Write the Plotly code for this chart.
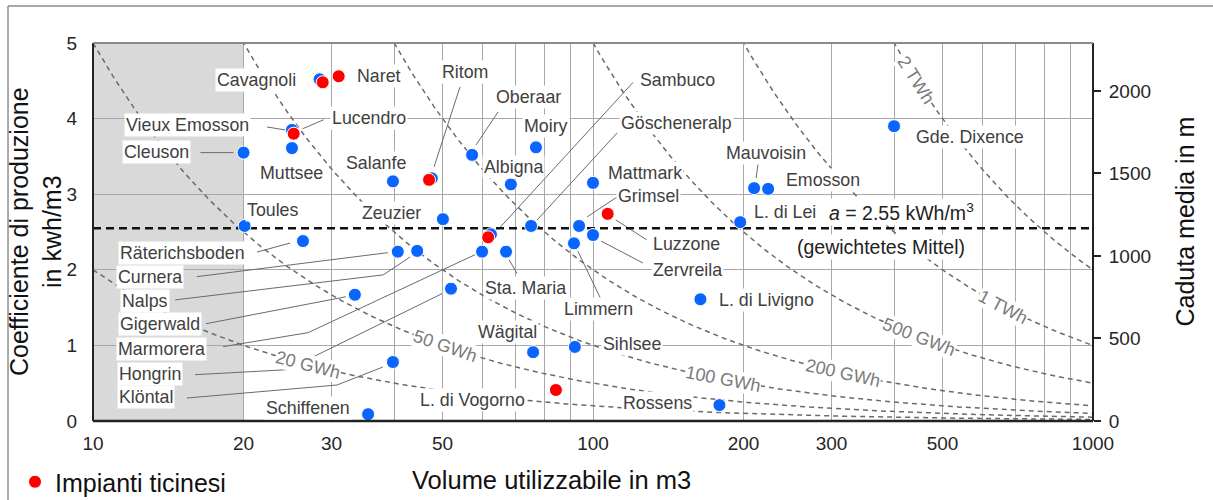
import math
import numpy as np
import plotly.graph_objects as go

# ---------------- data ----------------
names = ["Cavagnoli", "", "Naret", "Vieux Emosson", "Lucendro", "Cleuson", "Muttsee",
         "Salanfe", "Toules", "Ritom", "", "Oberaar", "Moiry", "Albigna", "Sambuco", "",
         "Göscheneralp", "Mattmark", "Grimsel", "Luzzone", "Zervreila", "Limmern", "Zeuzier",
         "Mauvoisin", "Emosson", "L. di Lei", "Gde. Dixence", "Räterichsboden", "Curnera",
         "Nalps", "Gigerwald", "Marmorera", "Sta. Maria", "Hongrin", "Klöntal", "Schiffenen",
         "L. di Livigno", "Wägital", "Sihlsee", "L. di Vogorno", "Rossens"]
volume = [28.8, 28.4, 31.0, 25.0, 25.2, 20.0, 25.0,
          39.8, 20.1, 47.0, 47.6, 57.3, 76.9, 68.5, 61.7, 62.5,
          75.2, 100.0, 93.8, 107.0, 100.0, 91.6, 50.1,
          210.0, 224.0, 197.0, 400.0, 26.3, 40.7,
          44.5, 33.4, 60.0, 67.0, 52.0, 39.8, 35.5,
          164.0, 75.9, 92.0, 84.3, 179.0]
coeff = [4.48, 4.52, 4.56, 3.85, 3.80, 3.55, 3.61,
         3.17, 2.58, 3.19, 3.21, 3.52, 3.62, 3.13, 2.43, 2.47,
         2.58, 3.15, 2.58, 2.74, 2.46, 2.35, 2.67,
         3.08, 3.07, 2.63, 3.90, 2.38, 2.24,
         2.25, 1.67, 2.24, 2.24, 1.75, 0.78, 0.09,
         1.61, 0.91, 0.98, 0.41, 0.21]
ticino = [True, False, True, False, True, False, False,
          False, False, True, False, False, False, False, True, False,
          False, False, False, True, False, False, False,
          False, False, False, False, False, False,
          False, False, False, False, False, False, False,
          False, False, False, True, False]

energy_levels_gwh = [20, 50, 100, 200, 500, 1000, 2000]
energy_labels = ["20 GWh", "50 GWh", "100 GWh", "200 GWh", "500 GWh", "1 TWh", "2 TWh"]
mean_coeff = 2.55
head_per_coeff = 458.0   # m of head per kWh/m3 (right axis)

x_tick_vals = [10, 20, 30, 50, 100, 200, 300, 500, 1000]
x_minor_grid = [40, 60, 70, 80, 90, 400, 600, 700, 800, 900]
y_tick_vals = [0, 1, 2, 3, 4, 5]
y2_tick_vals = [0, 500, 1000, 1500, 2000]
legend_label = "Impianti ticinesi"
mean_text = "<i>a</i> = 2.55 kWh/m<sup>3</sup>"
mean_note = "(gewichtetes Mittel)"

# ---------------- layout / style (pixels) ----------------
W, H = 1213, 500
ML, MR, MT, MB = 93, 120, 43, 79
PW, PH = W - ML - MR, H - MT - MB
X_RANGE = [1, 3]
Y_RANGE = [0, 5]


def px_x(p):
    return (p - ML) / PW


def px_y(p):
    return (H - MB - p) / PH


# label placement: anchor, dx, dy (px, up positive), leader-line points (px rel. to marker)
LABEL_STYLE = {
    "Cavagnoli": ("right", -25, 2, None),
    "Naret": ("left", 16, 0, None),
    "Vieux Emosson": ("right", -41, 5, [(-25, 3), (-7, 0)]),
    "Lucendro": ("left", 36, 16, [(30, 14), (9, 5)]),
    "Cleuson": ("right", -53, 1, [(-43, 0), (-10, 0)]),
    "Muttsee": ("center", 0, -25, None),
    "Salanfe": ("center", -17, 18, None),
    "Toules": ("left", 0, 16, None),
    "Ritom": ("center", 36, 108, [(31, 93), (5, 13)]),
    "Oberaar": ("center", 56, 58, [(26, 43), (4, 10)]),
    "Moiry": ("center", 10, 21, None),
    "Albigna": ("center", 3, 17, None),
    "Sambuco": ("left", 150, 157, [(145, 155), (12, 10)]),
    "Göscheneralp": ("left", 88, 103, [(86, 93), (6, 6)]),
    "Mattmark": ("left", 13, 10, None),
    "Grimsel": ("left", 37, 30, [(38, 29), (8, 9)]),
    "Luzzone": ("left", 43, -30, [(39, -26), (8, -6)]),
    "Zervreila": ("left", 58, -35, [(50, -28), (8, -6)]),
    "Limmern": ("center", 25, -66, [(4, -8), (27, -56)]),
    "Zeuzier": ("right", -20, 6, None),
    "Mauvoisin": ("center", 12, 35, [(4, 25), (2, 10)]),
    "Emosson": ("left", 16, 9, None),
    "L. di Lei": ("left", 12, 10, None),
    "Gde. Dixence": ("left", 20, -11, None),
    "Räterichsboden": ("right", -56, -12, [(-46, -11), (-13, -2)]),
    "Curnera": ("right", -214, -25, [(-201, -25), (-10, -1)]),
    "Nalps": ("right", -247, -50, [(-242, -49), (-34, -24), (-7, -6)]),
    "Gigerwald": ("right", -153, -29, [(-149, -29), (-9, -2)]),
    "Marmorera": ("right", -275, -97, [(-259, -95), (-174, -81), (-7, -3)]),
    "Sta. Maria": ("center", 19, -36, [(3, -8), (11, -22)]),
    "Hongrin": ("right", -268, -85, [(-256, -86), (-164, -81), (-9, -5)]),
    "Klöntal": ("right", -218, -35, [(-206, -36), (-56, -23), (-10, -5)]),
    "Schiffenen": ("right", -16, 6, None),
    "L. di Livigno": ("left", 17, -1, None),
    "Wägital": ("center", -26, 20, None),
    "Sihlsee": ("left", 26, 3, None),
    "L. di Vogorno": ("right", -29, -10, None),
    "Rossens": ("right", -25, 2, None),
}
# volume at which each iso-energy label sits on its curve
CURVE_LABEL_AT = [26.9, 50.6, 182, 316, 449, 661, 443]

FONT = "Liberation Sans, Arial, sans-serif"
BLUE = "#0a64ff"
RED = "#ff0000"
GRID = "#a8a8a8"
CURVE = "#6a6a6a"
LABEL_COL = "#404040"

fig = go.Figure()

# iso-energy curves  (E = a * V)
vgrid = np.logspace(1, 3, 400)
for e in energy_levels_gwh:
    fig.add_trace(go.Scatter(x=vgrid, y=e / vgrid, mode="lines",
                             line=dict(color=CURVE, width=1.5, dash="5px,4px"),
                             hoverinfo="skip", showlegend=False))

# weighted mean
fig.add_trace(go.Scatter(x=[10, 1000], y=[mean_coeff, mean_coeff], mode="lines",
                         line=dict(color="#111111", width=2.5, dash="8px,5px"),
                         hoverinfo="skip", showlegend=False))

bx = [v for v, t in zip(volume, ticino) if not t]
by = [c for c, t in zip(coeff, ticino) if not t]
bn = [n for n, t in zip(names, ticino) if not t]
rx = [v for v, t in zip(volume, ticino) if t]
ry = [c for c, t in zip(coeff, ticino) if t]
rn = [n for n, t in zip(names, ticino) if t]

fig.add_trace(go.Scatter(x=bx, y=by, text=bn, mode="markers",
                         marker=dict(color=BLUE, size=13, line=dict(color="white", width=1)),
                         showlegend=False, name="Impianti"))
fig.add_trace(go.Scatter(x=rx, y=ry, text=rn, mode="markers",
                         marker=dict(color=RED, size=13, line=dict(color="white", width=1)),
                         showlegend=True, name=legend_label))
# invisible trace to activate right axis
fig.add_trace(go.Scatter(x=[10], y=[0], yaxis="y2", mode="markers",
                         marker=dict(opacity=0), showlegend=False, hoverinfo="skip"))

shapes = [dict(type="rect", xref="x", yref="y", x0=10, x1=20, y0=0, y1=5,
               fillcolor="#d9d9d9", line=dict(width=0), layer="below")]
annotations = []

for n, v, c in zip(names, volume, coeff):
    if not n or n not in LABEL_STYLE:
        continue
    anchor, dx, dy, leader = LABEL_STYLE[n]
    if leader:
        path = "M " + " L ".join(f"{px},{py}" for px, py in leader)
        shapes.append(dict(type="path", xref="x", yref="y", xsizemode="pixel",
                           ysizemode="pixel", xanchor=v, yanchor=c, path=path,
                           line=dict(color="#6a6a6a", width=1), layer="between"))
    annotations.append(dict(x=math.log10(v), y=c, xref="x", yref="y", text=n,
                            showarrow=False, xanchor=anchor, yanchor="middle",
                            xshift=dx, yshift=dy, bgcolor="white", borderpad=1,
                            font=dict(family=FONT, size=17.8, color=LABEL_COL)))

# iso-energy curve labels
for e, lab, vl in zip(energy_levels_gwh, energy_labels, CURVE_LABEL_AT):
    yl = e / vl
    slope = yl * math.log(10) * (PH / (Y_RANGE[1] - Y_RANGE[0])) / (PW / (X_RANGE[1] - X_RANGE[0]))
    ang = math.degrees(math.atan(slope))
    annotations.append(dict(x=math.log10(vl), y=yl, xref="x", yref="y", text=lab,
                            showarrow=False, textangle=ang, bgcolor="white", borderpad=0,
                            font=dict(family=FONT, size=18, color="#7a7a7a")))

annotations.append(dict(x=0.883, y=mean_coeff, xref="paper", yref="y", text=mean_text,
                        showarrow=False, yshift=16, bgcolor="white", borderpad=1,
                        font=dict(family=FONT, size=19.5, color="#222222")))
annotations.append(dict(x=0.874, y=mean_coeff, xref="paper", yref="y", text=mean_note,
                        showarrow=False, yshift=-19, bgcolor="white", borderpad=1,
                        font=dict(family=FONT, size=19.5, color="#222222")))

# axis titles
annotations.append(dict(x=px_x(35), y=0.5, xref="paper", yref="paper",
                        text="Coefficiente di produzione<br>in kwh/m3", textangle=-90,
                        showarrow=False, xanchor="center", yanchor="middle",
                        font=dict(family=FONT, size=25, color="#111111")))
annotations.append(dict(x=px_x(1184), y=px_y(221.5), xref="paper", yref="paper",
                        text="Caduta media in m", textangle=-90,
                        showarrow=False, xanchor="center", yanchor="middle",
                        font=dict(family=FONT, size=25, color="#111111")))
annotations.append(dict(x=px_x(551), y=px_y(480), xref="paper", yref="paper",
                        text="Volume utilizzabile in m3", showarrow=False,
                        xanchor="center", yanchor="middle",
                        font=dict(family=FONT, size=25.5, color="#111111")))

# plot borders
shapes += [
    dict(type="line", xref="paper", yref="paper", x0=0, x1=0, y0=0, y1=1,
         line=dict(color="#222222", width=2), layer="above"),
    dict(type="line", xref="paper", yref="paper", x0=1, x1=1, y0=0, y1=1,
         line=dict(color="#222222", width=2), layer="above"),
    dict(type="line", xref="paper", yref="paper", x0=0, x1=1, y0=0, y1=0,
         line=dict(color="#222222", width=2.5), layer="above"),
    dict(type="line", xref="paper", yref="paper", x0=0, x1=1, y0=1, y1=1,
         line=dict(color="#8a8a8a", width=2), layer="above"),
    # outer picture frame
    dict(type="line", xref="paper", yref="paper", x0=px_x(8), x1=px_x(W),
         y0=px_y(6), y1=px_y(6), line=dict(color="#8c8c8c", width=1.5)),
    dict(type="line", xref="paper", yref="paper", x0=px_x(8), x1=px_x(8),
         y0=px_y(H), y1=px_y(6), line=dict(color="#8c8c8c", width=1.5)),
]

fig.update_layout(
    width=W, height=H,
    margin=dict(l=ML, r=MR, t=MT, b=MB, pad=0, autoexpand=False),
    paper_bgcolor="white", plot_bgcolor="white",
    font=dict(family=FONT, color="#222222"),
    showlegend=True,
    legend=dict(x=px_x(15), y=px_y(482), xanchor="left", yanchor="middle",
                font=dict(family=FONT, size=25, color="#111111"),
                bgcolor="rgba(0,0,0,0)", borderwidth=0),
    xaxis=dict(type="log", range=X_RANGE, tickvals=x_tick_vals,
               ticktext=[str(v) for v in x_tick_vals],
               showgrid=True, gridcolor=GRID, gridwidth=1.3, zeroline=False,
               showline=False, ticks="", ticklabelstandoff=9, automargin=False,
               minor=dict(tickvals=x_minor_grid, showgrid=True, gridcolor=GRID,
                          gridwidth=1.3, ticks=""),
               tickfont=dict(family=FONT, size=19, color="#262626")),
    yaxis=dict(range=Y_RANGE, tickvals=y_tick_vals, showgrid=True, gridcolor=GRID,
               gridwidth=1.3, zeroline=False, showline=False, ticks="", automargin=False,
               ticklabelstandoff=15, tickfont=dict(family=FONT, size=19, color="#262626")),
    yaxis2=dict(overlaying="y", side="right", range=[0, Y_RANGE[1] * head_per_coeff],
                tickvals=y2_tick_vals, showgrid=False, zeroline=False, showline=False,
                ticks="outside", ticklen=7, tickwidth=1.5, tickcolor="#222222",
                automargin=False,
                ticklabelstandoff=4, tickfont=dict(family=FONT, size=19, color="#262626")),
    shapes=shapes,
    annotations=annotations,
)

fig.write_html("out.html", config={"displayModeBar": False},
               post_script="document.body.style.margin='0';")
